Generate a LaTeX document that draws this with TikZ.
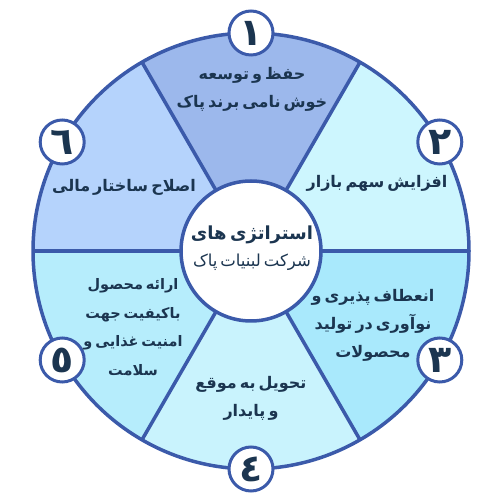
\documentclass[tikz,border=0pt]{standalone}
\usepackage{fontspec}
\newfontfamily\fa[Script=Arabic,WordSpace=0.55]{DejaVu Sans}
\TeXXeTstate=1
\definecolor{sA}{HTML}{9CB8EC}
\definecolor{sB}{HTML}{CDF6FE}
\definecolor{sC}{HTML}{A9E9FC}
\definecolor{sD}{HTML}{C9F3FD}
\definecolor{sE}{HTML}{B6EDFC}
\definecolor{sF}{HTML}{B5D3FC}
\definecolor{ln}{HTML}{3B5AAA}
\definecolor{tx}{HTML}{1B3550}
\tikzset{
  divline/.style={ln, line width=3.5pt},
  numc/.style={circle, draw=ln, fill=white, line width=3pt, minimum size=44pt, inner sep=0pt, text=tx, font=\fa\bfseries\fontsize{38}{38}\selectfont},
  lbl/.style={align=center, text=tx, font=\fa\bfseries\fontsize{16}{28}\selectfont, inner sep=0pt},
}
\begin{document}
\begin{tikzpicture}[x=1pt,y=1pt]
\useasboundingbox (0,0) rectangle (500,500);
\coordinate (C) at (251,249);
\def\R{218}
\fill[sA] (C) -- ([shift={(60:\R)}]C) arc[start angle=60,end angle=120,radius=\R] -- cycle;
\fill[sB] (C) -- ([shift={(0:\R)}]C) arc[start angle=0,end angle=60,radius=\R] -- cycle;
\fill[sC] (C) -- ([shift={(-60:\R)}]C) arc[start angle=-60,end angle=0,radius=\R] -- cycle;
\fill[sD] (C) -- ([shift={(-120:\R)}]C) arc[start angle=-120,end angle=-60,radius=\R] -- cycle;
\fill[sE] (C) -- ([shift={(180:\R)}]C) arc[start angle=180,end angle=240,radius=\R] -- cycle;
\fill[sF] (C) -- ([shift={(120:\R)}]C) arc[start angle=120,end angle=180,radius=\R] -- cycle;
\foreach \a in {0,60,120,180,240,300} \draw[divline] (C) -- ([shift={(\a:\R)}]C);
\draw[divline] (C) circle[radius=\R];
\node[circle, draw=ln, fill=white, line width=3.5pt, minimum size=140pt, inner sep=0pt] (hub) at (C) {};
\node[text=tx, inner sep=0pt, font=\fa\bfseries\fontsize{18}{20}\selectfont] (hubA) at (252,265) {\beginR استراتژی های\endR};
\node[text=tx, inner sep=0pt, font=\fa\fontsize{16.5}{20}\selectfont] (hubB) at (252,238) {\beginR شرکت لبنیات پاک\endR};
\node[numc] (n1) at ([shift={(90:\R)}]C) {١};
\node[numc] (n2) at ([shift={(30:\R)}]C) {٢};
\node[numc] (n3) at ([shift={(-30:\R)}]C) {٣};
\node[numc] (n4) at ([shift={(-90:\R)}]C) {٤};
\node[numc] (n5) at ([shift={(210:\R)}]C) {٥};
\node[numc] (n6) at ([shift={(150:\R)}]C) {٦};
\node[lbl] (t1) at (252,411) {\beginR حفظ و توسعه\endR\\\beginR خوش نامی برند پاک\endR};
\node[lbl] (t2) at (377,317) {\beginR افزایش سهم بازار\endR};
\node[lbl] (t3) at (373,175) {\beginR انعطاف پذیری و\endR\\\beginR نوآوری در تولید\endR\\\beginR محصولات\endR};
\node[lbl] (t4) at (251,102) {\beginR تحویل به موقع\endR\\\beginR و پایدار\endR};
\node[lbl, font=\fa\bfseries\fontsize{14.5}{28.5}\selectfont] (t5) at (133,173) {\beginR ارائه محصول\endR\\\beginR باکیفیت جهت\endR\\\beginR امنیت غذایی و\endR\\\beginR سلامت\endR};
\node[lbl] (t6) at (124,313) {\beginR اصلاح ساختار مالی\endR};
\end{tikzpicture}
\end{document}
